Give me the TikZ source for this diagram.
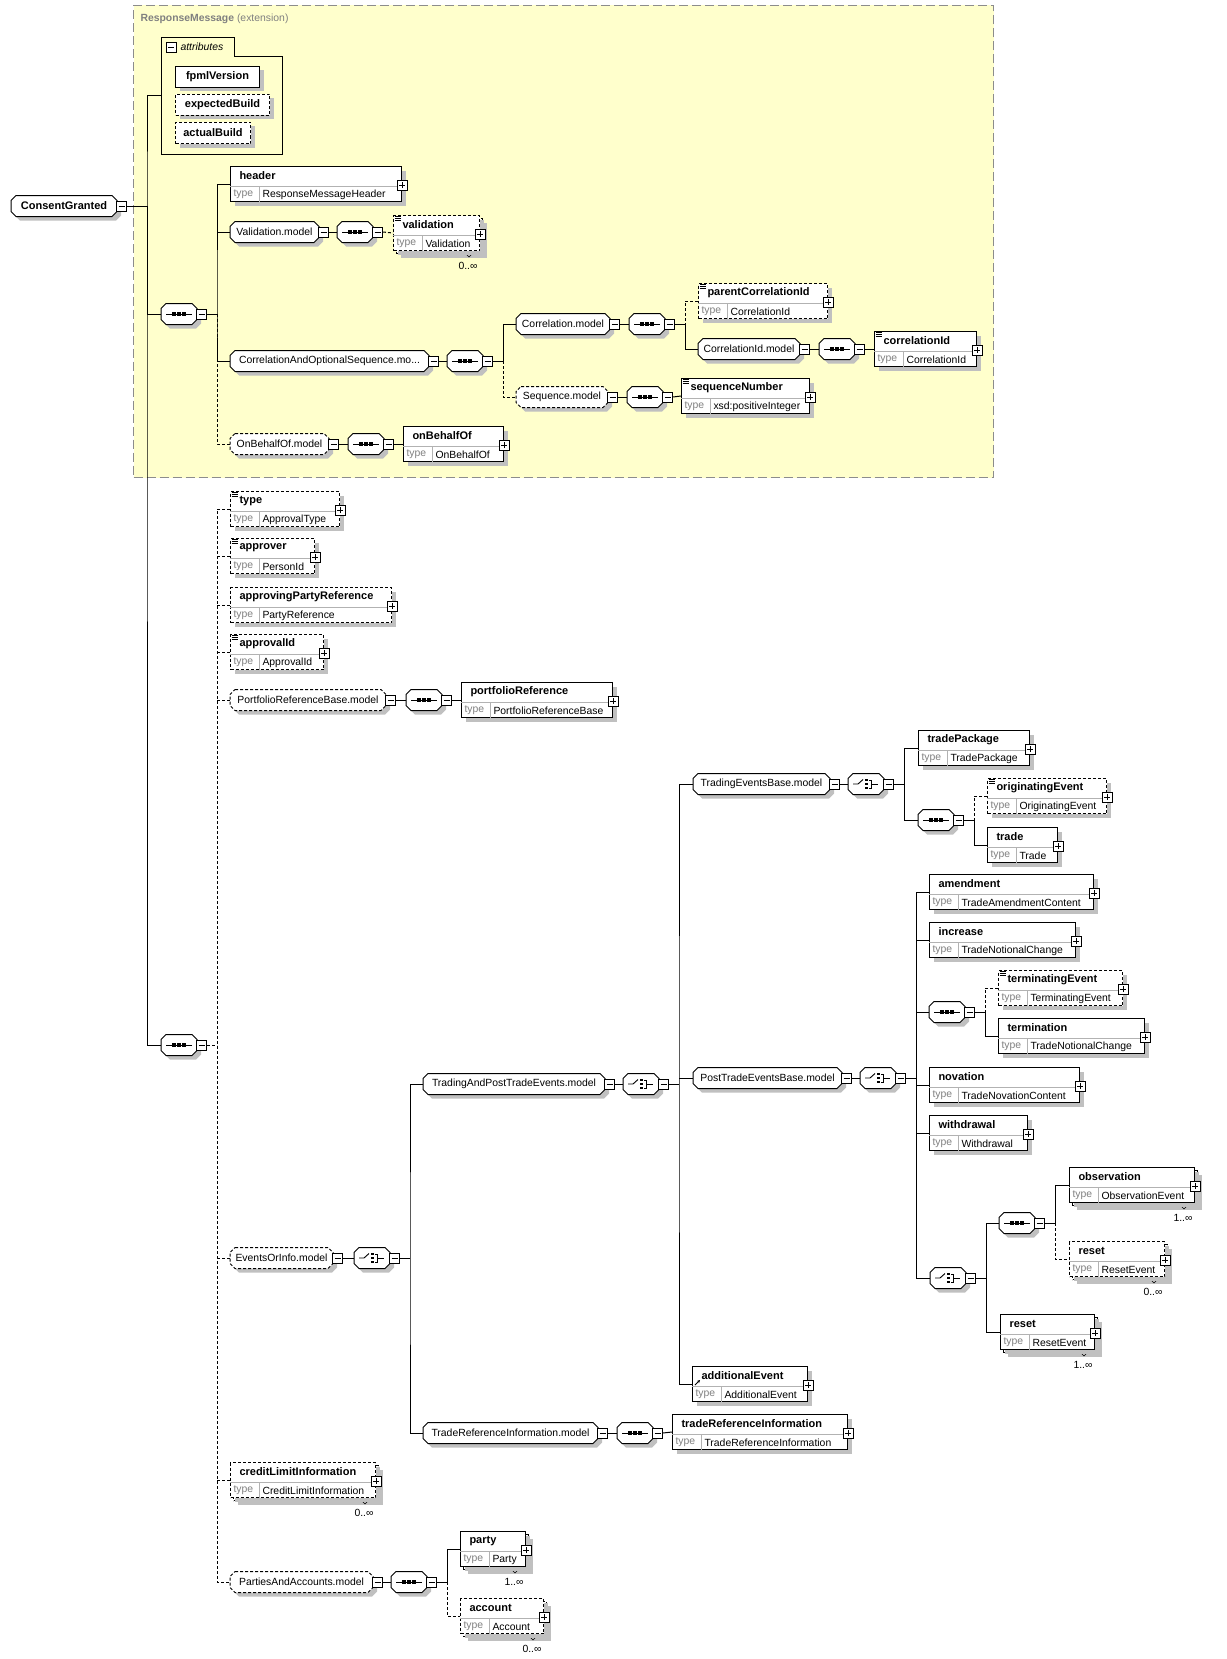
\documentclass[tikz,border=0pt]{standalone}
\usepackage{fontspec}
\setmainfont{Liberation Sans}
\usepackage{tikz}
\usetikzlibrary{arrows.meta,calc,shadows}
\definecolor{giallo}{RGB}{255,255,204}
\definecolor{grigioombra}{RGB}{192,192,192}
\definecolor{bordo}{RGB}{140,140,140}
\tikzset{
>=Stealth,
testo/.style={font=\fontsize{10.4}{12}\selectfont},
grassetto/.style={font=\fontsize{11}{13}\selectfont\bfseries},
ombra/.style={drop shadow={shadow xshift=4pt,shadow yshift=-4pt,fill=grigioombra,opacity=1}},
opzionale/.style={dash pattern=on 3pt off 2pt},
elem/.style={draw,fill=white,ombra,anchor=north west,minimum height=35pt,inner sep=0pt},
attributo/.style={draw,fill=white,ombra,anchor=north west,minimum height=21pt,inner sep=0pt,grassetto},
divisore/.style={draw=gray!60},
nome/.style={grassetto,anchor=west,inner sep=0pt},
tipo/.style={testo,anchor=west,inner sep=0pt,text=gray},
tiponome/.style={testo,anchor=west,inner sep=0pt},
modello/.style={rectangle,anchor=west,minimum height=20pt,inner sep=0pt},
meno/.style={draw,fill=white,minimum size=10pt,inner sep=0pt,anchor=west,
  path picture={\draw ([xshift=2pt]path picture bounding box.west) -- ([xshift=-2pt]path picture bounding box.east);}},
piu/.style={draw,fill=white,minimum size=10pt,inner sep=0pt,anchor=center,
  path picture={\draw ([xshift=2pt]path picture bounding box.west) -- ([xshift=-2pt]path picture bounding box.east)
    ([yshift=2pt]path picture bounding box.south) -- ([yshift=-2pt]path picture bounding box.north);}},
sequenza/.pic={
  \draw (-13,0) -- (13,0);
  \foreach \d in {-5,0,5} \fill (\d-1.7,-1.6) rectangle (\d+1.7,1.6);},
scelta/.pic={
  \draw[line width=0.9pt] (-13,0) -- (-8,0) -- (-3,-4.5);
  \foreach \d in {-4,0,4} \fill (-1,\d-1.4) rectangle (1.8,\d+1.4);
  \draw[line width=0.9pt] (3,-4) -- (5,-4) -- (5,4) -- (3,4) (5,0) -- (12,0);}}

% contorno smussato: nodo, smusso, dx, dy
\newcommand{\smusso}[4]{($(#1.north west)+(#2+#3,#4)$) -- ($(#1.north east)+(-#2+#3,#4)$)
  -- ($(#1.north east)+(#3,#2+#4)$) -- ($(#1.south east)+(#3,-#2+#4)$)
  -- ($(#1.south east)+(-#2+#3,#4)$) -- ($(#1.south west)+(#2+#3,#4)$)
  -- ($(#1.south west)+(#3,-#2+#4)$) -- ($(#1.north west)+(#3,#2+#4)$) -- cycle}
% \elemento[stile]{nome}{x,y}{larghezza}{etichetta}{tipo}
\newcommand{\elemento}[6][]{%
  \node[elem,#1,minimum width=#4pt] (#2) at (#3) {};
  \draw[divisore] ([yshift=-20pt]#2.north west) -- ([yshift=-20pt]#2.north east);
  \draw[divisore] ([xshift=29pt,yshift=-20pt]#2.north west) -- ([xshift=29pt]#2.south west);
  \node[nome] (#2-n) at ([xshift=9pt,yshift=-10pt]#2.north west) {#5};
  \node[tipo] (#2-t) at ([xshift=3pt,yshift=7.5pt]#2.south west) {type};
  \node[tiponome] (#2-tn) at ([xshift=32pt,yshift=7.5pt]#2.south west) {#6};
  \node[piu] (#2-p) at ([yshift=-19pt]#2.north east) {};
}
% \multiplo[stile]{nome}{x,y}{larghezza}{cardinalita}
\newcommand{\multiplo}[5][]{%
  \node[elem,#1,minimum width=#4pt,xshift=3pt,yshift=-3pt] (#2-r) at (#3) {};
  \draw[line width=0.6pt] ([xshift=-17pt]#2-r.south east) -- ++(3,3) -- ++(3,-3);
  \node[testo,anchor=east,inner sep=0pt] (#2-c) at ([xshift=-5pt,yshift=-12pt]#2-r.south east) {#5};
}
\newcommand{\icona}[1]{%
  \foreach \k in {1.8,3.8,5.8}
    \draw[line width=0.7pt] ([xshift=1.5pt,yshift=-\k pt]#1.north west) -- ++(6,0);
}
\newcommand{\modello}[5][]{%
  \node[modello,minimum width=#4pt] (#2) at (#3) {};
  \fill[grigioombra] \smusso{#2}{5}{4}{4};
  \draw[fill=white,#1] \smusso{#2}{5}{0}{0};
  \node[testo,inner sep=0pt,#1] (#2-e) at (#2.center) {#5};
  \node[meno] (#2-m) at ([xshift=-1pt]#2.east) {};
}
\newcommand{\compositore}[3]{%
  \node[modello,minimum width=35pt] (#1) at (#2) {};
  \fill[grigioombra] \smusso{#1}{5}{4}{4};
  \draw[fill=white] \smusso{#1}{5}{0}{0};
  \pic (#1-i) at (#1.center) {#3};
  \node[meno] (#1-m) at ([xshift=-1pt]#1.east) {};
}

\begin{document}
\begin{tikzpicture}[x=1pt,y=-1pt,line width=1pt]
\useasboundingbox (0,0) rectangle (1226,1659);

\node[draw=bordo,fill=giallo,dash pattern=on 9pt off 4pt,anchor=north west,minimum width=860pt,minimum height=472pt,inner sep=0pt] (base) at (133,5) {};
\node[testo,text=gray,anchor=west,inner sep=0pt] (base-t) at (140,19) {\textbf{ResponseMessage} (extension)};

\node[minimum width=120pt,minimum height=115pt,inner sep=0pt,anchor=north west] (attr) at (161,38) {};
\draw (attr.south west) -- (attr.north west) -- ++(73,0) -- ++(0,19) -| (attr.south east) -- cycle;
\node[meno,anchor=center] (attr-m) at ([xshift=10pt,yshift=-10pt]attr.north west) {};
\node[font=\fontsize{10.4}{12}\selectfont\itshape,anchor=west,inner sep=0pt] (attr-t) at ([xshift=19pt,yshift=-9pt]attr.north west) {attributes};
\node[attributo,minimum width=84pt] (fpml) at (175,66) {fpmlVersion};
\node[attributo,opzionale,minimum width=94pt] (expb) at (175,94) {expectedBuild};
\node[attributo,opzionale,minimum width=75pt] (actb) at (175,122) {actualBuild};

\modello[grassetto]{CG}{11,206}{105}{ConsentGranted}
\coordinate (radice) at (147,206);
\compositore{s1}{161,314}{sequenza}
\compositore{s2}{161,1045}{sequenza}

\elemento{header}{230,166}{171}{header}{ResponseMessageHeader}
\modello{valm}{230,232}{88}{Validation.model}
\compositore{valseq}{337,232}{sequenza}
\multiplo[opzionale]{validation}{393,215}{86}{0..∞}
\elemento[opzionale]{validation}{393,215}{86}{validation}{Validation}
\icona{validation}
\modello{caos}{230,361}{198}{CorrelationAndOptionalSequence.mo...}
\compositore{caosseq}{447,361}{sequenza}
\modello{corrm}{516,324}{93}{Correlation.model}
\compositore{corrseq}{629,324}{sequenza}
\elemento[opzionale]{pcid}{698,283}{129}{parentCorrelationId}{CorrelationId}
\icona{pcid}
\modello{cidm}{698,349}{101}{CorrelationId.model}
\compositore{cidseq}{819,349}{sequenza}
\elemento{corrid}{874,331}{102}{correlationId}{CorrelationId}
\icona{corrid}
\modello[opzionale]{seqm}{516,397}{91}{Sequence.model}
\compositore{seqseq}{627,397}{sequenza}
\elemento{seqnum}{681,378}{128}{sequenceNumber}{xsd:positiveInteger}
\icona{seqnum}
\modello[opzionale]{obm}{230,444}{98}{OnBehalfOf.model}
\compositore{obseq}{348,444}{sequenza}
\elemento{obo}{403,426}{100}{onBehalfOf}{OnBehalfOf}

\elemento[opzionale]{apptype}{230,491}{109}{type}{ApprovalType}
\icona{apptype}
\elemento[opzionale]{approver}{230,538}{84}{approver}{PersonId}
\icona{approver}
\elemento[opzionale]{apr}{230,587}{161}{approvingPartyReference}{PartyReference}
\elemento[opzionale]{appid}{230,634}{93}{approvalId}{ApprovalId}
\icona{appid}
\modello[opzionale]{prbm}{230,700}{155}{PortfolioReferenceBase.model}
\compositore{prbseq}{406,700}{sequenza}
\elemento{portref}{461,682}{151}{portfolioReference}{PortfolioReferenceBase}

\modello[opzionale]{eoim}{230,1258}{102}{EventsOrInfo.model}
\compositore{eoich}{354,1258}{scelta}
\modello{taptm}{423,1084}{181}{TradingAndPostTradeEvents.model}
\compositore{taptch}{623,1084}{scelta}
\modello{tebm}{693,784}{136}{TradingEventsBase.model}
\compositore{tebch}{848,784}{scelta}
\elemento{tradepkg}{918,730}{111}{tradePackage}{TradePackage}
\compositore{teseq}{918,820}{sequenza}
\elemento[opzionale]{origev}{987,778}{119}{originatingEvent}{OriginatingEvent}
\icona{origev}
\elemento{trade}{987,827}{70}{trade}{Trade}

\modello{ptebm}{693,1078}{148}{PostTradeEventsBase.model}
\compositore{ptebch}{860,1078}{scelta}
\elemento{amend}{929,874}{164}{amendment}{TradeAmendmentContent}
\elemento{increase}{929,922}{146}{increase}{TradeNotionalChange}
\compositore{termseq}{929,1012}{sequenza}
\elemento[opzionale]{termev}{998,970}{124}{terminatingEvent}{TerminatingEvent}
\icona{termev}
\elemento{termination}{998,1018}{146}{termination}{TradeNotionalChange}
\elemento{novation}{929,1067}{150}{novation}{TradeNovationContent}
\elemento{withdrawal}{929,1115}{98}{withdrawal}{Withdrawal}
\compositore{resch}{930,1278}{scelta}
\compositore{obsseq}{999,1223}{sequenza}
\multiplo{observation}{1069,1167}{125}{1..∞}
\elemento{observation}{1069,1167}{125}{observation}{ObservationEvent}
\multiplo[opzionale]{reseto}{1069,1241}{95}{0..∞}
\elemento[opzionale]{reseto}{1069,1241}{95}{reset}{ResetEvent}
\multiplo{reset}{1000,1314}{94}{1..∞}
\elemento{reset}{1000,1314}{94}{reset}{ResetEvent}

\elemento{addev}{692,1366}{115}{additionalEvent}{AdditionalEvent}
\draw[-{Stealth[length=3pt,width=3pt]},line width=0.8pt] ([xshift=3pt,yshift=-19pt]addev.north west) -- ++(5,-5);
\modello{trim}{423,1433}{174}{TradeReferenceInformation.model}
\compositore{triseq}{617,1433}{sequenza}
\elemento{tri}{672,1414}{175}{tradeReferenceInformation}{TradeReferenceInformation}

\multiplo[opzionale]{credit}{230,1462}{145}{0..∞}
\elemento[opzionale]{credit}{230,1462}{145}{creditLimitInformation}{CreditLimitInformation}
\modello[opzionale]{paam}{230,1582}{142}{PartiesAndAccounts.model}
\compositore{paaseq}{391,1582}{sequenza}
\multiplo{party}{460,1531}{65}{1..∞}
\elemento{party}{460,1531}{65}{party}{Party}
\multiplo[opzionale]{account}{460,1598}{83}{0..∞}
\elemento[opzionale]{account}{460,1598}{83}{account}{Account}

\draw (CG-m.east) -- (radice);
\draw (attr.west) -| (radice) |- (s2.west);
\draw (radice) |- (s1.west);

\coordinate (b1) at ([xshift=10pt]s1-m.east);
\draw (s1-m.east) -- (b1);
\draw (header.west) -| (b1) |- (caos.west);
\draw (b1 |- valm.west) -- (valm.west);
\draw[opzionale] (b1) |- (obm.west);
\draw (valm-m.east) -- (valseq.west);
\draw[opzionale] (valseq-m.east) -- (validation.west);
\draw (caos-m.east) -- (caosseq.west);
\coordinate (b2) at ([xshift=10pt]caosseq-m.east);
\draw (caosseq-m.east) -- (b2);
\draw (corrm.west) -| (b2);
\draw[opzionale] (b2) |- (seqm.west);
\draw (corrm-m.east) -- (corrseq.west);
\coordinate (b3) at ([xshift=10pt]corrseq-m.east);
\draw (corrseq-m.east) -- (b3);
\draw[opzionale] (pcid.west) -| (b3);
\draw (b3) |- (cidm.west);
\draw (cidm-m.east) -- (cidseq.west);
\draw (cidseq-m.east) -- (corrid.west);
\draw (seqm-m.east) -- (seqseq.west);
\draw (seqseq-m.east) -- (seqnum.west);
\draw (obm-m.east) -- (obseq.west);
\draw (obseq-m.east) -- (obo.west);

\coordinate (b4) at ([xshift=10pt]s2-m.east);
\draw[opzionale] (s2-m.east) -- (b4);
\draw[opzionale] (apptype.west) -| (b4) |- (paam.west);
\foreach \n in {approver,apr,appid,prbm,eoim,credit}
  \draw[opzionale] (b4 |- \n.west) -- (\n.west);
\draw (prbm-m.east) -- (prbseq.west);
\draw (prbseq-m.east) -- (portref.west);
\draw (eoim-m.east) -- (eoich.west);
\coordinate (b5) at ([xshift=10pt]eoich-m.east);
\draw (eoich-m.east) -- (b5);
\draw (taptm.west) -| (b5) |- (trim.west);
\draw (taptm-m.east) -- (taptch.west);
\coordinate (b6) at ([xshift=10pt]taptch-m.east);
\draw (taptch-m.east) -- (b6);
\draw (tebm.west) -| (b6) |- (addev.west);
\draw (b6 |- ptebm.west) -- (ptebm.west);
\draw (tebm-m.east) -- (tebch.west);
\coordinate (b7) at ([xshift=10pt]tebch-m.east);
\draw (tebch-m.east) -- (b7);
\draw (tradepkg.west) -| (b7) |- (teseq.west);
\coordinate (b8) at ([xshift=10pt]teseq-m.east);
\draw (teseq-m.east) -- (b8);
\draw[opzionale] (origev.west) -| (b8);
\draw (b8) |- (trade.west);
\draw (ptebm-m.east) -- (ptebch.west);
\coordinate (b9) at ([xshift=10pt]ptebch-m.east);
\draw (ptebch-m.east) -- (b9);
\draw (amend.west) -| (b9) |- (resch.west);
\foreach \n in {increase,termseq,novation,withdrawal}
  \draw (b9 |- \n.west) -- (\n.west);
\coordinate (b10) at ([xshift=10pt]termseq-m.east);
\draw (termseq-m.east) -- (b10);
\draw[opzionale] (termev.west) -| (b10);
\draw (b10) |- (termination.west);
\coordinate (b11) at ([xshift=10pt]resch-m.east);
\draw (resch-m.east) -- (b11);
\draw (obsseq.west) -| (b11) |- (reset.west);
\coordinate (b12) at ([xshift=10pt]obsseq-m.east);
\draw (obsseq-m.east) -- (b12);
\draw (observation.west) -| (b12);
\draw[opzionale] (b12) |- (reseto.west);
\draw (trim-m.east) -- (triseq.west);
\draw (triseq-m.east) -- (tri.west);
\draw (paam-m.east) -- (paaseq.west);
\coordinate (b13) at ([xshift=10pt]paaseq-m.east);
\draw (paaseq-m.east) -- (b13);
\draw (party.west) -| (b13);
\draw[opzionale] (b13) |- (account.west);

\end{tikzpicture}
\end{document}
